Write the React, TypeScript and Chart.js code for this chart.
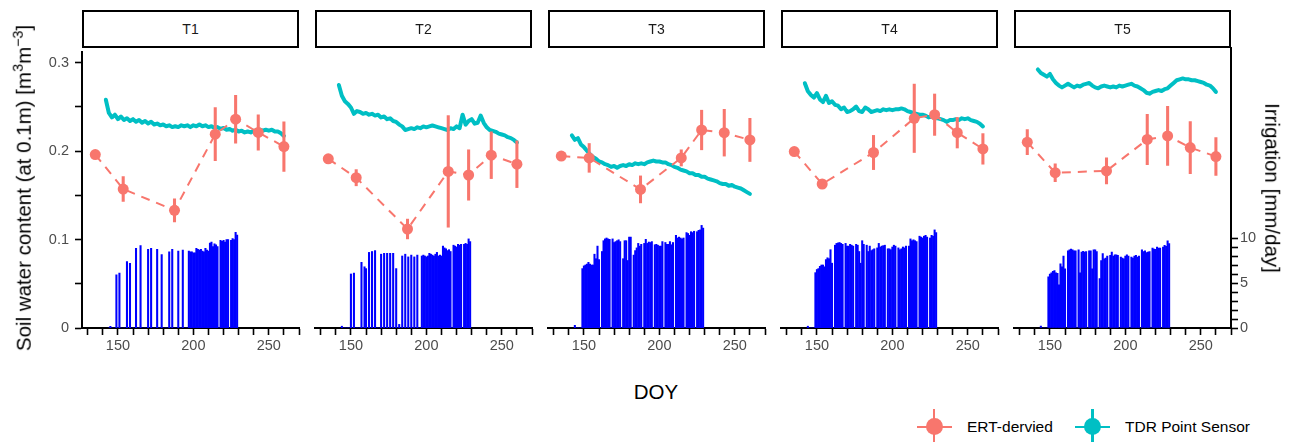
import React, { useEffect, useRef } from 'react';
import { Chart, registerables } from 'chart.js';

Chart.register(...registerables);

// ---------- data ----------
const PANEL_NAMES = ['T1', 'T2', 'T3', 'T4', 'T5'];

const ERT_DAYS = [135, 153.5, 187.5, 214.5, 228, 243, 260];
const ERT_T1 = [0.196, 0.157, 0.133, 0.219, 0.236, 0.221, 0.205];
const ERR_T1 = [0.002, 0.014, 0.013, 0.030, 0.027, 0.020, 0.028];
const ERT_T2 = [0.188, 0.167, 0.110, 0.174, 0.170, 0.192, 0.182];
const ERR_T2 = [0.004, 0.009, 0.011, 0.062, 0.028, 0.026, 0.026];
const ERT_T3 = [0.191, 0.189, 0.154, 0.189, 0.220, 0.217, 0.209];
const ERR_T3 = [0.002, 0.016, 0.015, 0.009, 0.022, 0.026, 0.024];
const ERT_T4 = [0.196, 0.160, 0.195, 0.233, 0.237, 0.217, 0.199];
const ERR_T4 = [0.004, 0.002, 0.019, 0.038, 0.023, 0.017, 0.017];
const ERT_T5 = [0.207, 0.173, 0.175, 0.210, 0.214, 0.201, 0.191];
const ERR_T5 = [0.014, 0.010, 0.0145, 0.028, 0.033, 0.029, 0.021];

const TDR_DAYS = [
  142, 144, 146, 148, 150, 152, 154, 156, 158, 160,
  162, 164, 166, 168, 170, 172, 174, 176, 178, 180,
  182, 184, 186, 188, 190, 192, 194, 196, 198, 200,
  202, 204, 206, 208, 210, 212, 214, 216, 218, 220,
  222, 224, 226, 228, 230, 232, 234, 236, 238, 240,
  242, 244, 246, 248, 250, 252, 254, 256, 258, 260,
];
const TDR_T1 = [
  0.258, 0.243, 0.238, 0.241, 0.236, 0.239, 0.235, 0.237, 0.234, 0.236,
  0.233, 0.235, 0.232, 0.234, 0.231, 0.233, 0.230, 0.231, 0.229, 0.230,
  0.228, 0.229, 0.227, 0.228, 0.227, 0.229, 0.228, 0.229, 0.227, 0.229,
  0.228, 0.230, 0.228, 0.229, 0.227, 0.228, 0.226, 0.227, 0.225, 0.226,
  0.224, 0.225, 0.223, 0.224, 0.222, 0.223, 0.221, 0.222, 0.221, 0.223,
  0.222, 0.224, 0.223, 0.224, 0.223, 0.224, 0.222, 0.222, 0.220, 0.217,
];
const TDR_T2 = [
  0.270, 0.258, 0.252, 0.249, 0.245, 0.238, 0.241, 0.240, 0.238, 0.239,
  0.237, 0.238, 0.236, 0.237, 0.234, 0.235, 0.232, 0.233, 0.230, 0.229,
  0.226, 0.224, 0.220, 0.221, 0.222, 0.221, 0.223, 0.222, 0.224, 0.223,
  0.224, 0.225, 0.224, 0.223, 0.222, 0.221, 0.220, 0.222, 0.221, 0.224,
  0.222, 0.237, 0.226, 0.230, 0.232, 0.227, 0.228, 0.236, 0.228, 0.223,
  0.220, 0.219, 0.218, 0.216, 0.215, 0.214, 0.212, 0.211, 0.209, 0.206,
];
const TDR_T3 = [
  0.214, 0.209, 0.211, 0.204, 0.201, 0.197, 0.193, 0.190, 0.188, 0.185,
  0.184, 0.182, 0.181, 0.179, 0.180, 0.178, 0.180, 0.181, 0.180, 0.182,
  0.181, 0.183, 0.182, 0.183, 0.182, 0.184, 0.185, 0.186, 0.185, 0.185,
  0.184, 0.184, 0.182, 0.181, 0.179, 0.178, 0.176, 0.175, 0.174, 0.172,
  0.172, 0.170, 0.170, 0.168, 0.168, 0.166, 0.165, 0.164, 0.163, 0.161,
  0.160, 0.160, 0.158, 0.159, 0.157, 0.156, 0.155, 0.153, 0.151, 0.149,
];
const TDR_T4 = [
  0.272, 0.263, 0.259, 0.256, 0.261, 0.254, 0.251, 0.258, 0.250, 0.252,
  0.248, 0.247, 0.243, 0.245, 0.240, 0.241, 0.243, 0.246, 0.241, 0.240,
  0.245, 0.243, 0.240, 0.241, 0.242, 0.241, 0.243, 0.242, 0.243, 0.242,
  0.243, 0.243, 0.244, 0.243, 0.241, 0.240, 0.239, 0.238, 0.237, 0.237,
  0.236, 0.234, 0.235, 0.233, 0.233, 0.232, 0.231, 0.229, 0.231, 0.231,
  0.232, 0.231, 0.233, 0.232, 0.233, 0.231, 0.230, 0.229, 0.227, 0.224,
];
const TDR_T5 = [
  0.288, 0.284, 0.282, 0.280, 0.283, 0.277, 0.273, 0.270, 0.268, 0.270,
  0.272, 0.270, 0.268, 0.270, 0.269, 0.271, 0.272, 0.273, 0.270, 0.268,
  0.267, 0.269, 0.270, 0.269, 0.268, 0.269, 0.268, 0.270, 0.269, 0.270,
  0.271, 0.272, 0.270, 0.269, 0.267, 0.265, 0.262, 0.261, 0.263, 0.264,
  0.265, 0.264, 0.266, 0.267, 0.270, 0.273, 0.276, 0.277, 0.278, 0.277,
  0.277, 0.276, 0.276, 0.275, 0.274, 0.273, 0.271, 0.270, 0.267, 0.263,
];

// daily irrigation [mm/day], first value = DOY 144
const IRR_FIRST_DAY = 144;
const IRR_T1 = [
  0, 0.2, 0, 0, 0, 6.0, 0, 6.2, 0, 0,
  0, 0, 7.5, 0, 7.3, 0, 0, 0, 9.0, 0,
  0, 9.3, 0, 0, 0, 0, 8.9, 0, 9.0, 0,
  0, 0, 8.9, 0, 0, 8.3, 0, 0, 0, 0,
  8.6, 0, 8.9, 0, 0, 0, 8.7, 0, 0, 8.8,
  0, 0, 0, 8.7, 8.6, 8.6, 8.5, 8.5, 9.0, 8.9,
  8.8, 8.9, 8.7, 8.6, 9.0, 8.8, 8.7, 9.6, 9.7, 9.2,
  9.5, 9.4, 9.2, 0, 9.9, 9.8, 9.9, 9.7, 10.0, 10.0,
  0, 9.9, 10.1, 10.0, 10.8, 10.5,
];
const IRR_T2 = [
  0.2, 0, 0, 0, 0, 0, 6.0, 0, 6.1, 0,
  0, 0, 0, 7.3, 0, 6.8, 6.6, 0, 8.4, 0,
  8.5, 0, 8.6, 0, 0, 0, 8.2, 0, 8.3, 0,
  8.3, 0, 8.3, 0, 8.3, 0, 6.6, 0, 0.4, 0,
  8.0, 0, 8.2, 0, 7.9, 0, 8.1, 0, 7.9, 0,
  8.1, 0, 0, 8.0, 8.1, 8.0, 7.9, 8.0, 8.3, 8.2,
  8.1, 8.0, 8.2, 8.4, 8.0, 8.1, 8.0, 9.1, 8.9, 8.8,
  8.6, 8.7, 8.5, 0, 9.2, 9.1, 9.0, 9.3, 9.2, 9.3,
  0, 9.3, 9.4, 9.3, 9.9, 9.6,
];
const IRR_T3 = [
  0.3, 0, 0, 0, 0, 6.6, 6.9, 7.0, 7.1, 7.3,
  7.1, 7.0, 7.0, 8.2, 7.7, 9.1, 7.6, 0, 8.5, 9.7,
  9.9, 10.0, 9.9, 9.85, 0, 9.9, 9.5, 9.6, 9.7, 9.8,
  9.6, 0, 7.7, 9.7, 9.7, 7.5, 10.1, 10.1, 0, 8.1,
  8.6, 8.9, 9.4, 9.1, 9.3, 0, 9.4, 9.85, 9.4, 9.55,
  9.5, 9.6, 0, 9.25, 9.3, 9.2, 9.1, 9.1, 9.6, 0,
  9.5, 9.3, 9.3, 9.6, 9.25, 9.5, 0, 10.3, 10.0, 10.1,
  10.0, 9.9, 10.0, 0, 10.6, 10.5, 10.3, 10.7, 10.6, 10.75,
  0, 10.7, 10.85, 10.9, 11.4, 11.1,
];
const IRR_T4 = [
  0.2, 0, 0, 0, 0, 6.15, 6.5, 6.6, 6.85, 7.0,
  7.0, 6.8, 7.6, 7.8, 7.7, 8.7, 7.2, 0, 9.2, 9.4,
  9.45, 9.5, 9.4, 9.3, 0, 9.4, 9.1, 9.1, 9.3, 9.2,
  9.1, 0, 9.3, 9.2, 8.5, 7.2, 9.7, 9.3, 0, 9.2,
  8.5, 9.1, 8.6, 8.7, 8.8, 0, 8.9, 9.4, 9.0, 9.1,
  9.15, 9.2, 0, 8.8, 8.8, 8.7, 9.0, 9.2, 9.1, 0,
  8.9, 8.7, 8.8, 9.0, 8.9, 9.1, 0, 9.1, 9.9, 9.7,
  9.8, 9.7, 9.6, 0, 10.2, 10.1, 10.0, 10.2, 10.3, 10.1,
  0, 10.0, 10.3, 10.2, 10.9, 10.6,
];
const IRR_T5 = [
  0.2, 0, 0, 0, 0, 5.7, 6.0, 6.15, 6.3, 6.4,
  6.15, 6.1, 4.8, 7.15, 6.8, 8.0, 6.6, 0, 8.6, 8.7,
  8.8, 8.7, 8.6, 8.6, 0, 8.7, 6.15, 8.45, 8.55, 8.45,
  8.5, 0, 8.6, 8.6, 6.6, 8.7, 8.7, 8.5, 0, 5.5,
  7.5, 8.3, 7.7, 7.8, 8.0, 0, 8.1, 8.45, 8.0, 8.15,
  8.15, 8.1, 0, 7.9, 7.8, 7.7, 8.0, 8.15, 8.0, 0,
  7.9, 7.8, 8.0, 8.1, 7.9, 8.0, 0, 8.7, 8.5, 8.6,
  8.4, 8.45, 8.5, 0, 8.9, 8.8, 8.75, 9.0, 8.9, 8.9,
  0, 9.0, 9.2, 9.1, 9.7, 9.4,
];

const X_TICKS = [130, 140, 150, 160, 170, 180, 190, 200, 210, 220, 230, 240, 250, 260, 270];
const X_LABELS = [150, 200, 250];
const Y_TICKS = [0, 0.05, 0.1, 0.15, 0.2, 0.25, 0.3];
const Y_LABELS = [0, 0.1, 0.2, 0.3];
const IRR_TICKS = [0, 1, 2, 3, 4, 5, 6, 7, 8, 9, 10];
const IRR_LABELS = [0, 5, 10];

const ERT_VALUES = [ERT_T1, ERT_T2, ERT_T3, ERT_T4, ERT_T5];
const ERT_ERRORS = [ERR_T1, ERR_T2, ERR_T3, ERR_T4, ERR_T5];
const TDR_VALUES = [TDR_T1, TDR_T2, TDR_T3, TDR_T4, TDR_T5];
const IRR_VALUES = [IRR_T1, IRR_T2, IRR_T3, IRR_T4, IRR_T5];

// ---------- layout / style ----------
const FONT = '"Liberation Sans", Arial, Helvetica, sans-serif';
const PANEL_LEFTS = [82, 315, 548, 781, 1014];
const PANEL_W = 217;
const PLOT_TOP = 47;
const PLOT_BOTTOM = 328;
const MARGIN = 60;
const TOP_PAD = 10;
const X_AXIS_H = 40;
const ERT_COLOR = '#F8766D';
const TDR_COLOR = '#00BFC4';
const IRR_COLOR = '#0000FF';
const TICK_COLOR = '#4D4D4D';

const has = (list: number[], v: number) => list.some((l) => Math.abs(l - v) < 1e-6);

function makeConfig(i: number): any {
  const first = i === 0;
  const last = i === PANEL_NAMES.length - 1;
  const plotH = PLOT_BOTTOM - PLOT_TOP;
  const yMax = plotH / 900; // 0.1 units per 90px
  const ert = ERT_VALUES[i];
  const err = ERT_ERRORS[i];
  const tdr = TDR_VALUES[i];
  const irr = IRR_VALUES[i];

  const gridCommon = {
    display: true,
    drawOnChartArea: false,
    drawTicks: true,
    tickLength: 7,
    tickWidth: 1.6,
    tickColor: '#000',
    offset: false,
  };

  return {
    type: 'bar',
    data: {
      datasets: [
        {
          type: 'line',
          label: 'ERT-dervied',
          data: ERT_DAYS.map((d, k) => ({ x: d, y: ert[k] })),
          borderColor: ERT_COLOR,
          backgroundColor: ERT_COLOR,
          borderWidth: 2,
          borderDash: [9, 7],
          pointRadius: 5.5,
          pointBorderWidth: 0,
          pointBackgroundColor: ERT_COLOR,
          tension: 0,
          yAxisID: 'y',
          order: 0,
        },
        {
          type: 'bar',
          label: 'ERT error',
          data: ERT_DAYS.map((d, k) => ({ x: d, y: [ert[k] - err[k], ert[k] + err[k]] })),
          backgroundColor: ERT_COLOR,
          borderWidth: 0,
          barThickness: 2.4,
          grouped: false,
          yAxisID: 'y',
          order: 1,
        },
        {
          type: 'line',
          label: 'TDR Point Sensor',
          data: TDR_DAYS.map((d, k) => ({ x: d, y: tdr[k] })),
          borderColor: TDR_COLOR,
          borderWidth: 4,
          borderJoinStyle: 'round',
          borderCapStyle: 'round',
          pointRadius: 0,
          tension: 0,
          yAxisID: 'y',
          order: 2,
        },
        {
          type: 'bar',
          label: 'Irrigation',
          data: irr.map((v, k) => ({ x: IRR_FIRST_DAY + k, y: v })),
          backgroundColor: IRR_COLOR,
          borderWidth: 0,
          barThickness: 1.4,
          grouped: false,
          yAxisID: 'y2',
          order: 3,
        },
      ],
    },
    options: {
      responsive: false,
      animation: false,
      devicePixelRatio: 1,
      layout: {
        padding: {
          left: first ? 0 : MARGIN,
          right: last ? 0 : MARGIN,
          top: TOP_PAD,
          bottom: 0,
        },
      },
      plugins: { legend: { display: false }, tooltip: { enabled: false }, title: { display: false } },
      scales: {
        x: {
          type: 'linear',
          min: 126.2,
          max: 270,
          offset: false,
          afterBuildTicks: (s: any) => {
            s.ticks = X_TICKS.map((v) => ({ value: v }));
          },
          afterFit: (s: any) => {
            s.height = X_AXIS_H;
          },
          ticks: {
            autoSkip: false,
            maxRotation: 0,
            minRotation: 0,
            padding: 2,
            color: TICK_COLOR,
            font: { family: FONT, size: 14.5 },
            callback: (v: any) => (has(X_LABELS, Number(v)) ? String(v) : ''),
          },
          grid: gridCommon,
          border: { display: true, color: '#000', width: 2 },
        },
        y: {
          type: 'linear',
          position: 'left',
          display: first,
          min: 0,
          max: yMax,
          afterBuildTicks: (s: any) => {
            s.ticks = Y_TICKS.map((v) => ({ value: v }));
          },
          ...(first
            ? {
                afterFit: (s: any) => {
                  s.width = MARGIN;
                },
              }
            : {}),
          ticks: {
            autoSkip: false,
            padding: 6,
            color: TICK_COLOR,
            font: { family: FONT, size: 14.5 },
            callback: (v: any) => {
              const n = Number(v);
              if (!has(Y_LABELS, n)) return '';
              return n === 0 ? '0' : n.toFixed(1);
            },
          },
          grid: gridCommon,
          border: { display: true, color: '#000', width: 2 },
        },
        y2: {
          type: 'linear',
          position: 'right',
          display: last,
          min: 0,
          max: yMax * 100,
          afterBuildTicks: (s: any) => {
            s.ticks = IRR_TICKS.map((v) => ({ value: v }));
          },
          ...(last
            ? {
                afterFit: (s: any) => {
                  s.width = MARGIN;
                },
              }
            : {}),
          ticks: {
            autoSkip: false,
            padding: 2,
            color: TICK_COLOR,
            font: { family: FONT, size: 14.5 },
            callback: (v: any) => (has(IRR_LABELS, Number(v)) ? String(v) : ''),
          },
          grid: gridCommon,
          border: { display: true, color: '#000', width: 2 },
        },
      },
    },
  };
}

function Panel({ idx }: { idx: number }) {
  const ref = useRef<HTMLCanvasElement>(null);
  const w = PANEL_W + 2 * MARGIN;
  const h = PLOT_BOTTOM - PLOT_TOP + TOP_PAD + X_AXIS_H;
  useEffect(() => {
    if (!ref.current) return;
    const chart = new Chart(ref.current, makeConfig(idx));
    return () => chart.destroy();
  }, [idx]);
  return (
    <canvas
      ref={ref}
      width={w}
      height={h}
      style={{
        position: 'absolute',
        left: PANEL_LEFTS[idx] - MARGIN,
        top: PLOT_TOP - TOP_PAD,
        width: w,
        height: h,
      }}
    />
  );
}

function Strip({ idx }: { idx: number }) {
  return (
    <div
      style={{
        position: 'absolute',
        left: PANEL_LEFTS[idx],
        top: 10,
        width: PANEL_W,
        height: PLOT_TOP - 10 + 1,
        boxSizing: 'border-box',
        border: '2px solid #000',
        background: '#fff',
        display: 'flex',
        alignItems: 'center',
        justifyContent: 'center',
        fontFamily: FONT,
        fontSize: 14,
        color: '#1a1a1a',
      }}
    >
      {PANEL_NAMES[idx]}
    </div>
  );
}

function LegendKey({ cx, cy, color }: { cx: number; cy: number; color: string }) {
  return (
    <>
      <div style={{ position: 'absolute', left: cx - 17.5, top: cy - 1.1, width: 35, height: 2.2, background: color }} />
      <div style={{ position: 'absolute', left: cx - 1.1, top: cy - 18, width: 2.2, height: 36, background: color }} />
      <div
        style={{
          position: 'absolute',
          left: cx - 8.5,
          top: cy - 8.5,
          width: 17,
          height: 17,
          borderRadius: '50%',
          background: color,
        }}
      />
    </>
  );
}

const titleStyle: React.CSSProperties = {
  position: 'absolute',
  fontFamily: FONT,
  fontSize: 20.5,
  color: '#000',
  whiteSpace: 'nowrap',
  lineHeight: 1,
};

export default function App() {
  const legendY = 426.7;
  return (
    <div
      style={{
        position: 'absolute',
        left: 0,
        top: 0,
        width: 1291,
        height: 442,
        background: '#fff',
        overflow: 'hidden',
      }}
    >
      {PANEL_NAMES.map((_, i) => (
        <Panel key={'p' + i} idx={i} />
      ))}
      {PANEL_NAMES.map((_, i) => (
        <Strip key={'s' + i} idx={i} />
      ))}
      <div
        style={{
          ...titleStyle,
          left: 24,
          top: 188,
          transform: 'translate(-50%, -50%) rotate(-90deg)',
        }}
      >
        Soil water content (at 0.1m) [m
        <sup style={{ fontSize: '0.7em', verticalAlign: '0.55em', lineHeight: 0 }}>3</sup>m
        <sup style={{ fontSize: '0.7em', verticalAlign: '0.55em', lineHeight: 0 }}>−3</sup>]
      </div>
      <div
        style={{
          ...titleStyle,
          left: 1272,
          top: 187.5,
          transform: 'translate(-50%, -50%) rotate(90deg)',
        }}
      >
        Irrigation [mm/day]
      </div>
      <div style={{ ...titleStyle, left: 656, top: 392, transform: 'translate(-50%, -50%)' }}>DOY</div>

      <LegendKey cx={934.3} cy={legendY} color={ERT_COLOR} />
      <div style={{ ...titleStyle, fontSize: 15.5, left: 967, top: legendY, transform: 'translateY(-50%)' }}>
        ERT-dervied
      </div>
      <LegendKey cx={1092.5} cy={legendY} color={TDR_COLOR} />
      <div style={{ ...titleStyle, fontSize: 15.5, left: 1125, top: legendY, transform: 'translateY(-50%)' }}>
        TDR Point Sensor
      </div>
    </div>
  );
}
